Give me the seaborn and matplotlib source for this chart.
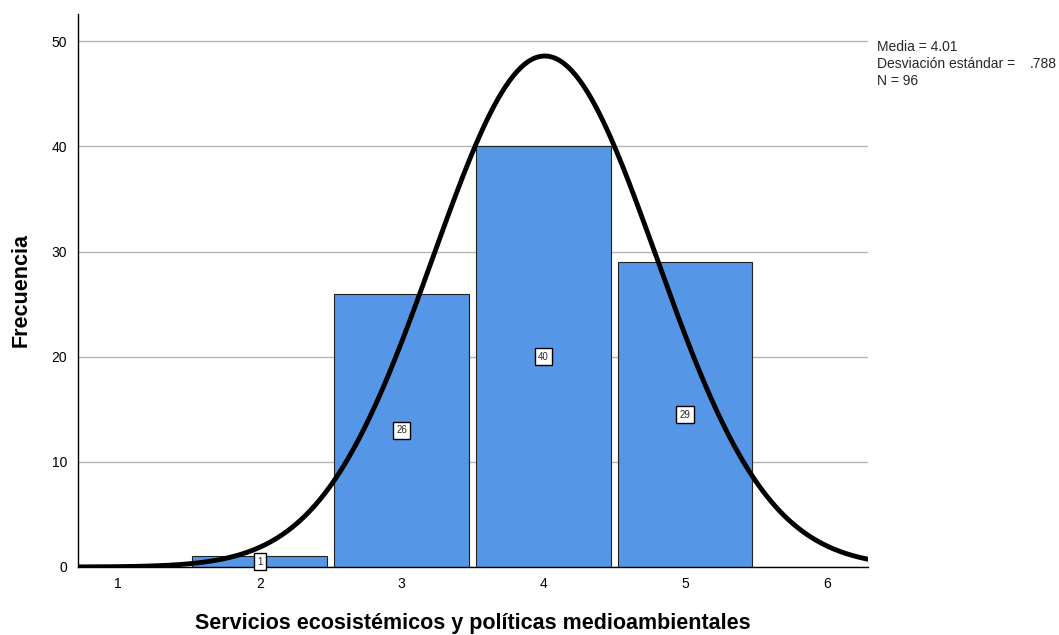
import numpy as np
import pandas as pd
import matplotlib
matplotlib.use('Agg')
import matplotlib.pyplot as plt
import seaborn as sns

# Frequencies
valores = [2, 3, 4, 5]
frecuencias = [1, 26, 40, 29]
media = 4.01
desv = 0.788
n_total = 96

sns.set_style('white')
plt.rcParams['font.family'] = ['Liberation Sans', 'DejaVu Sans']

fig = plt.figure(figsize=(10.59, 6.35), dpi=100)
ax = fig.add_axes([0.0737, 0.1071, 0.7459, 0.8709])

df = pd.DataFrame({'valor': valores, 'frecuencia': frecuencias})
sns.histplot(data=df, x='valor', weights='frecuencia', discrete=True, shrink=0.95,
             color='#5596e6', alpha=1, edgecolor='#222222', linewidth=0.8, ax=ax, zorder=2)

# Normal curve from the reported mean / sd / N (bin width = 1)
xs = np.linspace(0.72, 6.29, 400)
ys = n_total / (desv * np.sqrt(2 * np.pi)) * np.exp(-0.5 * ((xs - media) / desv) ** 2)
sns.lineplot(x=xs, y=ys, color='black', linewidth=3.5, ax=ax, zorder=4)

# Value labels in small white boxes
for v, f in zip(valores, frecuencias):
    ax.text(v, f / 2, str(f), ha='center', va='center', fontsize=7, zorder=5,
            bbox=dict(boxstyle='square,pad=0.35', fc='white', ec='black', lw=1))

ax.set_xlim(0.718, 6.29)
ax.set_ylim(0, 52.6)
ax.set_xticks([1, 2, 3, 4, 5, 6])
ax.set_yticks([0, 10, 20, 30, 40, 50])
ax.yaxis.grid(True, color='#b4b4b4', linewidth=1, zorder=0)
ax.set_axisbelow(True)
ax.tick_params(axis='both', length=0, labelsize=10, colors='black')
ax.tick_params(axis='x', pad=7)
ax.tick_params(axis='y', pad=8)
for s in ['top', 'right']:
    ax.spines[s].set_visible(False)
for s in ['left', 'bottom']:
    ax.spines[s].set_color('black')
    ax.spines[s].set_linewidth(1)

ax.set_xlabel('Servicios ecosistémicos y políticas medioambientales', fontsize=15.5,
              fontweight='bold', labelpad=16, color='black')
ax.set_ylabel('Frecuencia', fontsize=15.5, fontweight='bold', labelpad=14, color='black')

# Statistics box (SPSS style)
fig.text(0.828, 0.937, 'Media = 4.01\nDesviación estándar =\nN = 96',
         fontsize=10, va='top', ha='left', linespacing=1.25)
fig.text(0.9725, 0.937, '\n.788\n', fontsize=10, va='top', ha='left', linespacing=1.25)

fig.savefig('out.png', dpi=100)
